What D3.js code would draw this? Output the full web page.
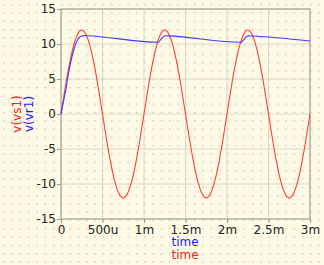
<!DOCTYPE html>
<html>
<head>
<meta charset="utf-8">
<script src="https://cdn.jsdelivr.net/npm/d3@7"></script>
<style>
  html, body { margin: 0; padding: 0; background: #fefae6; }
  text { font-family: "DejaVu Sans", sans-serif; }
</style>
</head>
<body>
<div id="chart"></div>
<script>
var width = 324, height = 265,
    margin = {top: 9, right: 14, bottom: 46, left: 61};

// time in ms
var vs1Time = [0,0.05,0.1,0.15,0.2,0.25,0.3,0.35,0.4,0.45,0.5,0.55,0.6,0.65,0.7,0.75,0.8,0.85,0.9,0.95,
  1,1.05,1.1,1.15,1.2,1.25,1.3,1.35,1.4,1.45,1.5,1.55,1.6,1.65,1.7,1.75,1.8,1.85,1.9,1.95,
  2,2.05,2.1,2.15,2.2,2.25,2.3,2.35,2.4,2.45,2.5,2.55,2.6,2.65,2.7,2.75,2.8,2.85,2.9,2.95,3];
var vs1Value = [0,3.71,7.05,9.71,11.41,12,11.41,9.71,7.05,3.71,0,-3.71,-7.05,-9.71,-11.41,-12,-11.41,-9.71,-7.05,-3.71,
  0,3.71,7.05,9.71,11.41,12,11.41,9.71,7.05,3.71,0,-3.71,-7.05,-9.71,-11.41,-12,-11.41,-9.71,-7.05,-3.71,
  0,3.71,7.05,9.71,11.41,12,11.41,9.71,7.05,3.71,0,-3.71,-7.05,-9.71,-11.41,-12,-11.41,-9.71,-7.05,-3.71,0];
var vr1Time = [0,0.05,0.1,0.15,0.2,0.24,0.28,0.32,1.17,1.2,1.23,1.26,1.3,2.17,2.2,2.23,2.26,2.3,3];
var vr1Value = [0,3.0,6.4,9.0,10.6,11.1,11.2,11.18,10.25,10.62,11.0,11.18,11.16,10.24,10.6,10.98,11.16,11.14,10.42];

var xTicks = [0,0.5,1,1.5,2,2.5,3];
var xTickLabels = ["0","500u","1m","1.5m","2m","2.5m","3m"];
var yTicks = [15,10,5,0,-5,-10,-15];

var svg = d3.select("#chart").append("svg")
    .attr("width", width)
    .attr("height", height);

// dotted background
var pat = svg.append("defs").append("pattern")
    .attr("id", "dots")
    .attr("patternUnits", "userSpaceOnUse")
    .attr("width", 8.3).attr("height", 8.3)
    .attr("x", 3).attr("y", 4);
pat.append("rect").attr("width", 1.5).attr("height", 1.2).attr("fill", "#c9c2ac");

svg.append("rect").attr("width", width).attr("height", height).attr("fill", "#fefae6");
svg.append("rect").attr("width", width).attr("height", height).attr("fill", "url(#dots)");

var x = d3.scaleLinear().domain([0, 3]).range([margin.left, width - margin.right]);
var y = d3.scaleLinear().domain([-15, 15]).range([height - margin.bottom, margin.top]);

// grid
svg.append("g").selectAll("line").data(xTicks).enter().append("line")
    .attr("x1", function(d) { return x(d); }).attr("x2", function(d) { return x(d); })
    .attr("y1", y(-15)).attr("y2", y(15))
    .attr("stroke", "#dcd8c8").attr("stroke-width", 1);
svg.append("g").selectAll("line").data(yTicks).enter().append("line")
    .attr("y1", function(d) { return y(d); }).attr("y2", function(d) { return y(d); })
    .attr("x1", x(0)).attr("x2", x(3))
    .attr("stroke", "#dcd8c8").attr("stroke-width", 1);

// frame
svg.append("rect")
    .attr("x", x(0)).attr("y", y(15))
    .attr("width", x(3) - x(0)).attr("height", y(-15) - y(15))
    .attr("fill", "none").attr("stroke", "#9a9a92").attr("stroke-width", 1);

// axes
var xAxis = d3.axisBottom(x).tickValues(xTicks)
    .tickFormat(function(d, i) { return xTickLabels[i]; })
    .tickSize(4).tickPadding(2);
var yAxis = d3.axisLeft(y).tickValues(yTicks).tickSize(4).tickPadding(1)
    .tickFormat(function(d) { return d < 0 ? "-" + Math.abs(d) : d; });

var gx = svg.append("g").attr("transform", "translate(0," + y(-15) + ")").call(xAxis);
var gy = svg.append("g").attr("transform", "translate(" + x(0) + ",0)").call(yAxis);
[gx, gy].forEach(function(g) {
  g.select(".domain").remove();
  g.selectAll(".tick line").attr("stroke", "#9a9a92");
  g.selectAll(".tick text").attr("fill", "#222").style("font-size", "12px")
      .style("font-family", "DejaVu Sans");
});

// lines
var line = d3.line()
    .x(function(d) { return x(d[0]); })
    .y(function(d) { return y(d[1]); });

svg.append("path")
    .datum(vs1Time.map(function(t, i) { return [t, vs1Value[i]]; }))
    .attr("fill", "none").attr("stroke", "#ff3b3b").attr("stroke-width", 1.1)
    .attr("d", line.curve(d3.curveNatural));

svg.append("path")
    .datum(vr1Time.map(function(t, i) { return [t, vr1Value[i]]; }))
    .attr("fill", "none").attr("stroke", "#3b3bff").attr("stroke-width", 1.1)
    .attr("d", line.curve(d3.curveMonotoneX));

// labels
svg.append("text").attr("transform", "translate(21,114) rotate(-90)")
    .attr("text-anchor", "middle").attr("fill", "#ff2020")
    .style("font-size", "12px").text("v(vs1)");
svg.append("text").attr("transform", "translate(33,114) rotate(-90)")
    .attr("text-anchor", "middle").attr("fill", "#2020ff")
    .style("font-size", "12px").text("v(vr1)");

svg.append("text").attr("x", 185).attr("y", 246)
    .attr("text-anchor", "middle").attr("fill", "#2020ff")
    .style("font-size", "12px").text("time");
svg.append("text").attr("x", 185).attr("y", 259)
    .attr("text-anchor", "middle").attr("fill", "#ff2020")
    .style("font-size", "12px").text("time");
</script>
</body>
</html>
